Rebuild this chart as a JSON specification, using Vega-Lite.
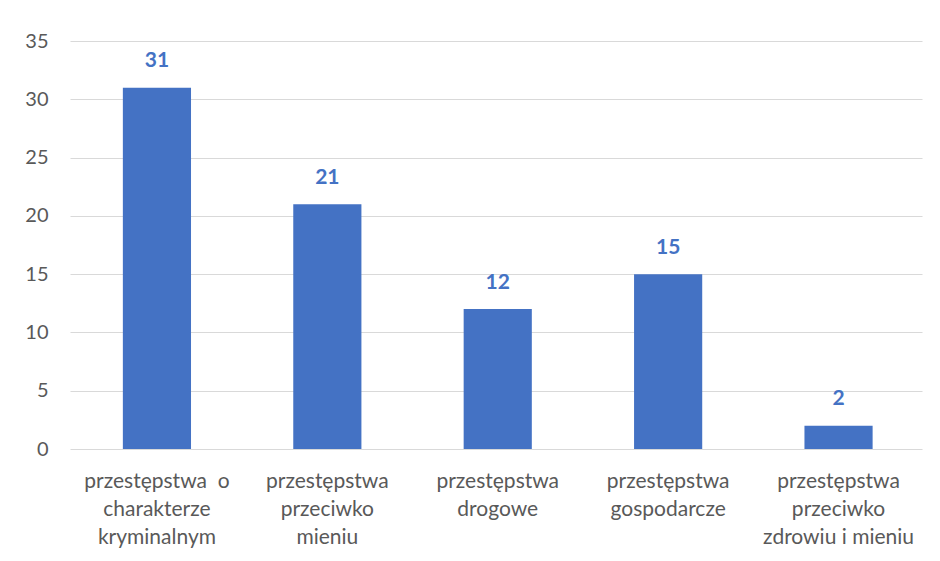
{
  "$schema": "https://vega.github.io/schema/vega-lite/v6.json",
  "autosize": {"type": "none"},
  "padding": {"left": 70, "top": 41, "right": 18, "bottom": 112},
  "width": 852,
  "height": 408,
  "background": "white",
  "config": {"view": {"stroke": null}, "font": "Lato"},
  "data": {"values": [
    {"kategoria": "przestępstwa o charakterze kryminalnym", "liczba": 31},
    {"kategoria": "przestępstwa przeciwko mieniu", "liczba": 21},
    {"kategoria": "przestępstwa drogowe", "liczba": 12},
    {"kategoria": "przestępstwa gospodarcze", "liczba": 15},
    {"kategoria": "przestępstwa przeciwko zdrowiu i mieniu", "liczba": 2}
  ]},
  "encoding": {
    "x": {
      "field": "kategoria", "type": "nominal", "sort": null,
      "scale": {"paddingInner": 0.6, "paddingOuter": 0.3, "align": 0.517},
      "axis": {
        "title": null, "labelAngle": 0, "domain": false, "ticks": false,
        "labelFont": "Lato", "labelFontSize": 21, "labelColor": "#595959",
        "labelPadding": 21, "labelBaseline": "top", "labelLineHeight": 28, "labelLimit": 0,
        "labelExpr": "datum.value == 'przestępstwa o charakterze kryminalnym' ? ['przestępstwa\u00a0 o', 'charakterze', 'kryminalnym'] : datum.value == 'przestępstwa przeciwko mieniu' ? ['przestępstwa', 'przeciwko', 'mieniu'] : datum.value == 'przestępstwa drogowe' ? ['przestępstwa', 'drogowe'] : datum.value == 'przestępstwa gospodarcze' ? ['przestępstwa', 'gospodarcze'] : ['przestępstwa', 'przeciwko', 'zdrowiu i mieniu']"
      }
    },
    "y": {
      "field": "liczba", "type": "quantitative",
      "scale": {"domain": [0, 35], "nice": false},
      "axis": {
        "title": null, "values": [0, 5, 10, 15, 20, 25, 30, 35],
        "domain": false, "ticks": false, "grid": true, "gridColor": "#d9d9d9", "gridWidth": 1,
        "labelFont": "Lato", "labelFontSize": 20, "labelColor": "#595959", "labelPadding": 22
      }
    }
  },
  "layer": [
    {"mark": {"type": "bar", "color": "#4472C4"}},
    {"mark": {"type": "text", "color": "#4472C4", "fontWeight": "bold", "fontSize": 21, "font": "Lato", "baseline": "alphabetic", "dy": -20.5},
     "encoding": {"text": {"field": "liczba", "type": "quantitative"}}}
  ]
}
